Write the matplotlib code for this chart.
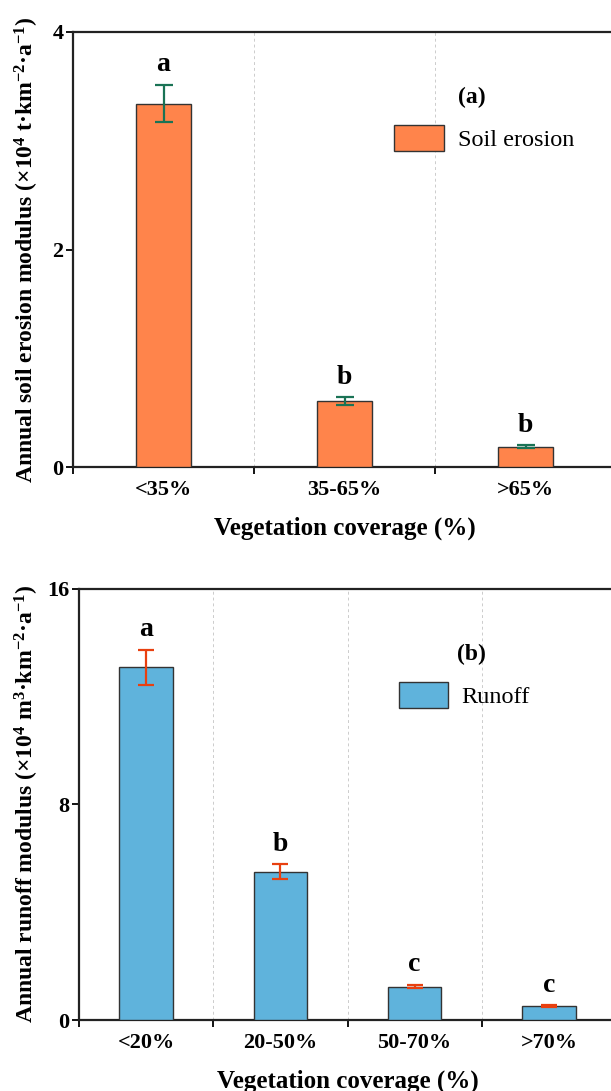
import matplotlib
matplotlib.use("Agg")
import matplotlib.pyplot as plt
from matplotlib.patches import Patch
import numpy as np

plt.rcParams['font.family'] = ['Liberation Serif', 'DejaVu Serif']
plt.rcParams['mathtext.fontset'] = 'custom'
plt.rcParams['mathtext.rm'] = 'Liberation Serif:bold'
plt.rcParams['mathtext.bf'] = 'Liberation Serif:bold'
plt.rcParams['mathtext.it'] = 'Liberation Serif:bold:italic'
plt.rcParams['mathtext.default'] = 'bf'

# Data
cats_a = ['<35%', '35-65%', '>65%']
vals_a = [3.34, 0.61, 0.19]
errs_a = [0.17, 0.033, 0.012]
sig_a = ['a', 'b', 'b']

cats_b = ['<20%', '20-50%', '50-70%', '>70%']
vals_b = [13.08, 5.49, 1.24, 0.52]
errs_b = [0.65, 0.28, 0.07, 0.03]
sig_b = ['a', 'b', 'c', 'c']

fig = plt.figure(figsize=(6.11, 10.91), dpi=100)

def panel(rect, cats, vals, errs, sig, ymax, yticks, color, ecolor, width, capsize,
          ylabel, ylabel_x, tag, legend_label, tag_xy, leg_xy):
    ax = fig.add_axes(rect)
    x = np.arange(len(cats))
    ax.bar(x, vals, width=width, color=color, edgecolor='#333333', linewidth=1.0, zorder=3)
    ax.errorbar(x, vals, yerr=errs, fmt='none', ecolor=ecolor, elinewidth=1.6,
                capsize=capsize, capthick=1.6, zorder=4)
    for xi, v, e, s in zip(x, vals, errs, sig):
        ax.text(xi, v + e + 0.0465 * ymax, s, ha='center', va='center',
                fontsize=20, fontweight='bold')
    ax.set_xlim(-0.5, len(cats) - 0.5)
    ax.set_ylim(0, ymax)
    ax.set_yticks(yticks)
    ax.set_yticklabels([str(t) for t in yticks], fontsize=16, fontweight='bold')
    ax.set_xticks(x)
    ax.set_xticklabels(cats, fontsize=16, fontweight='bold')
    ax.tick_params(axis='x', which='major', length=0, pad=9)
    ax.set_xticks(np.arange(-0.5, len(cats) - 0.4, 1.0), minor=True)
    ax.tick_params(axis='x', which='minor', length=5, width=1.3, direction='out')
    ax.tick_params(axis='y', length=5, width=1.3, direction='out', pad=2)
    for b in np.arange(0.5, len(cats) - 0.5, 1.0):
        ax.axvline(b, color='#cccccc', linestyle=(0, (3, 3)), linewidth=0.7, zorder=1)
    for sp in ['left', 'bottom', 'top']:
        ax.spines[sp].set_linewidth(1.6)
        ax.spines[sp].set_color('#222222')
    ax.spines['right'].set_visible(False)
    ax.set_xlabel('Vegetation coverage (%)', fontsize=18, fontweight='bold', labelpad=12)
    ax.set_ylabel(ylabel, fontsize=17.0, fontweight='bold')
    ax.yaxis.set_label_coords(ylabel_x, 0.5)
    ax.text(tag_xy[0], tag_xy[1], tag, transform=ax.transAxes, fontsize=17,
            fontweight='bold', ha='center', va='center')
    h = Patch(facecolor=color, edgecolor='#333333', linewidth=1.0)
    ax.legend([h], [legend_label], loc='upper left', bbox_to_anchor=leg_xy,
              frameon=False, fontsize=17.5, handlelength=2.05, handleheight=1.3,
              handletextpad=0.55, borderaxespad=0)
    return ax

panel([73/611, 1 - 467.5/1091, (616 - 73)/611, (467.5 - 31.7)/1091],
      cats_a, vals_a, errs_a, sig_a, 4, [0, 2, 4], '#FF844B', '#1A7355', 0.30, 6.8,
      'Annual soil erosion modulus (×10$^{4}$ t·km$^{-2}$·a$^{-1}$)', -0.0585,
      '(a)', 'Soil erosion', (0.735, 0.848), (0.574, 0.809))

panel([79/611, 1 - 1020/1091, (616 - 79)/611, (1020 - 588.5)/1091],
      cats_b, vals_b, errs_b, sig_b, 16, [0, 8, 16], '#5FB3DC', '#E84010', 0.40, 6.0,
      'Annual runoff modulus (×10$^{4}$ m$^{3}$·km$^{-2}$·a$^{-1}$)', -0.070,
      '(b)', 'Runoff', (0.73, 0.846), (0.577, 0.807))

fig.savefig('out.png', dpi=100)
